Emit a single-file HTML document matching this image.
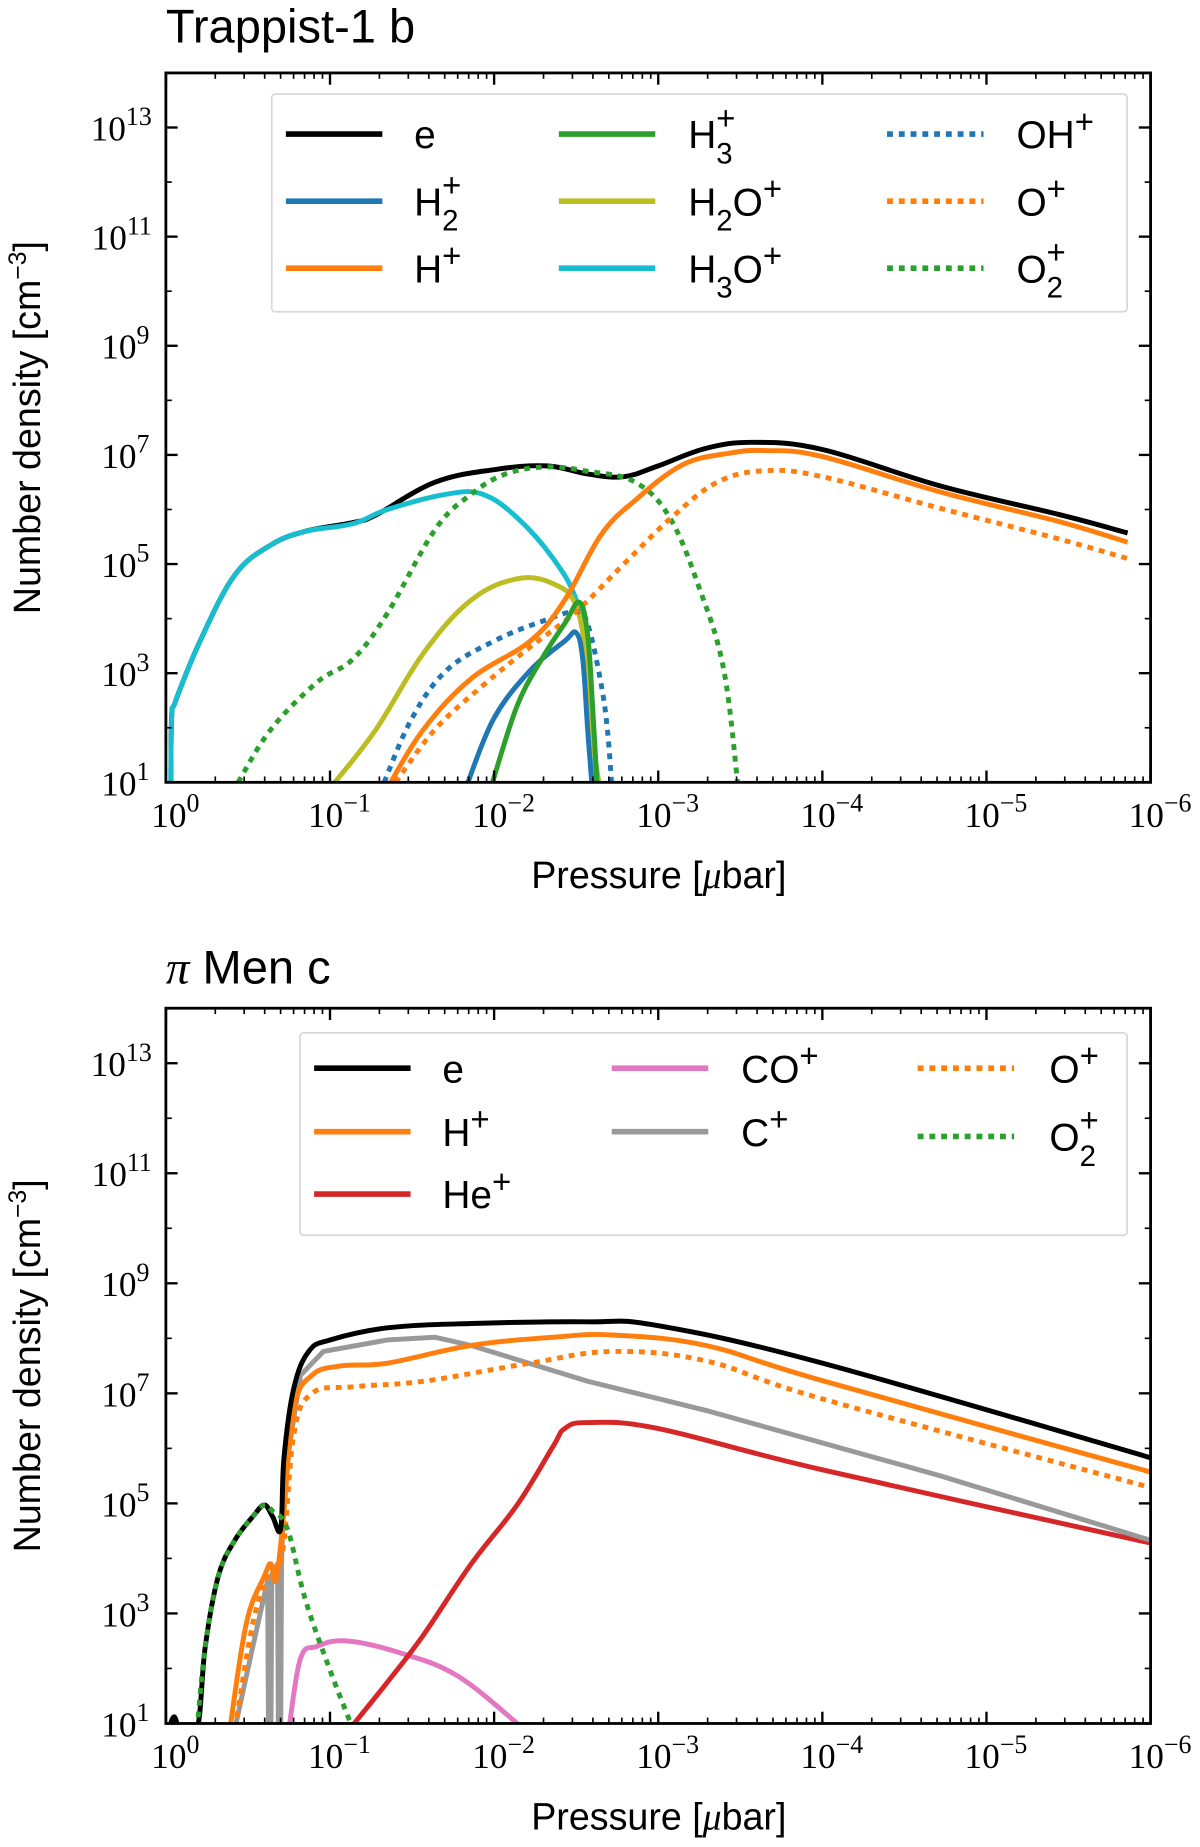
<!DOCTYPE html>
<html><head><meta charset="utf-8"><style>
html,body{margin:0;padding:0;background:#fff}
svg{display:block}
text{font-family:"Liberation Sans",sans-serif;fill:#000}
.tk{font-family:"Liberation Serif",serif;font-size:30px}
</style></head><body>
<svg id="fig" width="1200" height="1847" viewBox="0 0 1020 1570" preserveAspectRatio="none" xmlns="http://www.w3.org/2000/svg">
<defs>
<clipPath id="c1"><rect x="141" y="62" width="837" height="603"/></clipPath>
<clipPath id="c2"><rect x="141" y="857" width="837" height="608"/></clipPath>
</defs>
</svg>
<script>
// ---- data (x = log10 pressure [µbar], y = log10 number density) ----
const xTickExps = [0,-1,-2,-3,-4,-5,-6];
const yTickExps = [1,3,5,7,9,11,13];

const t_H3Op = [[-0.03,0.8],[-0.035,2.2],[-0.06,2.5],[-0.21,3.6],[-0.42,4.8],[-0.64,5.35],[-0.85,5.6],[-1.14,5.74],[-1.35,6.0],[-1.71,6.28],[-1.93,6.28],[-2.14,5.85],[-2.36,5.1],[-2.5,4.34],[-2.57,3.26],[-2.6,2.0],[-2.63,0.8]];
const t_e = [[-0.03,0.8],[-0.035,2.2],[-0.06,2.5],[-0.21,3.6],[-0.42,4.8],[-0.64,5.35],[-0.85,5.6],[-1.14,5.76],[-1.28,5.9],[-1.64,6.5],[-2,6.73],[-2.32,6.8],[-2.57,6.65],[-2.79,6.6],[-3,6.8],[-3.29,7.12],[-3.58,7.23],[-4,7.1],[-4.72,6.43],[-5.44,5.91],[-5.86,5.57]];
const t_O2p = [[-0.44,1],[-0.64,1.97],[-0.92,2.83],[-1.14,3.26],[-1.35,4.1],[-1.64,5.63],[-1.86,6.28],[-2.07,6.65],[-2.32,6.78],[-2.57,6.7],[-2.86,6.5],[-3.07,5.85],[-3.25,4.56],[-3.4,3.05],[-3.49,0.8]];
const t_H2Op = [[-1.03,1],[-1.28,1.97],[-1.57,3.37],[-1.86,4.34],[-2.14,4.73],[-2.36,4.64],[-2.5,4.23],[-2.57,3.05],[-2.61,1.6],[-2.65,0.8]];
const t_OHp = [[-1.33,1],[-1.5,2.18],[-1.71,3.05],[-2,3.59],[-2.29,3.95],[-2.5,4.13],[-2.57,3.9],[-2.65,2.83],[-2.69,1.97],[-2.72,0.8]];
const t_Hp = [[-1.37,1],[-1.57,1.97],[-1.86,2.9],[-2.22,3.59],[-2.43,4.34],[-2.65,5.53],[-2.86,6.17],[-3.15,6.82],[-3.43,7.03],[-3.65,7.08],[-4,6.97],[-4.72,6.32],[-5.44,5.78],[-5.86,5.4]];
const t_Op = [[-1.4,1],[-1.64,1.97],[-1.93,2.77],[-2.22,3.48],[-2.5,4.13],[-2.79,5.0],[-3.08,5.85],[-3.36,6.5],[-3.65,6.71],[-4,6.6],[-4.72,6.02],[-5.44,5.46],[-5.86,5.1]];
const t_H2p = [[-1.84,1],[-2,2.18],[-2.22,3.05],[-2.43,3.59],[-2.5,3.74],[-2.54,3.26],[-2.57,1.97],[-2.6,0.8]];
const t_H3p = [[-1.99,1],[-2.14,2.4],[-2.29,3.26],[-2.43,3.91],[-2.52,4.3],[-2.57,3.7],[-2.6,2.4],[-2.63,0.8]];

const m_e = [[-0.02,0.9],[-0.05,1.12],[-0.09,0.9],[-0.19,0.9],[-0.24,2.4],[-0.32,3.68],[-0.42,4.33],[-0.53,4.76],[-0.6,4.97],[-0.65,4.76],[-0.7,4.54],[-0.72,5.83],[-0.78,7.1],[-0.87,7.76],[-1,7.97],[-1.35,8.19],[-1.86,8.27],[-2.57,8.3],[-3,8.23],[-4,7.55],[-6,5.83]];
const m_O2p = [[-0.19,0.9],[-0.24,2.4],[-0.32,3.68],[-0.42,4.33],[-0.53,4.76],[-0.6,4.97],[-0.65,4.86],[-0.74,4.54],[-0.85,3.25],[-1,1.97],[-1.14,0.9]];
const m_Hp = [[-0.39,0.9],[-0.49,2.82],[-0.6,3.68],[-0.64,3.9],[-0.67,3.6],[-0.71,4.54],[-0.78,6.7],[-0.89,7.33],[-1.07,7.5],[-1.35,7.55],[-1.86,7.87],[-2.36,8.02],[-2.72,8.06],[-3.29,7.87],[-4,7.23],[-6,5.57]];
const m_Op = [[-0.42,0.9],[-0.53,2.82],[-0.62,3.68],[-0.71,4.1],[-0.78,6.26],[-0.89,7.0],[-1.14,7.12],[-1.57,7.22],[-2.22,7.55],[-2.72,7.76],[-3.29,7.59],[-4,6.9],[-6,5.29]];
const m_Cp = [[-0.42,0.9],[-0.53,2.4],[-0.62,3.6],[-0.625,0.9],[-0.64,0.9],[-0.645,3.7],[-0.68,3.9],[-0.685,0.9],[-0.7,0.9],[-0.705,3.9],[-0.72,5.4],[-0.82,7.33],[-0.96,7.76],[-1.35,7.97],[-1.64,8.02],[-1.86,7.87],[-2.57,7.22],[-3.29,6.69],[-4.72,5.5],[-6,4.33]];
const m_Hep = [[-1.12,0.9],[-1.35,1.75],[-1.57,2.61],[-1.86,3.9],[-2.14,4.97],[-2.36,6.04],[-2.43,6.36],[-2.57,6.47],[-3,6.36],[-4,5.61],[-6,4.28]];
const m_COp = [[-0.75,0.9],[-0.82,2.18],[-0.92,2.4],[-1.1,2.5],[-1.42,2.29],[-1.78,1.86],[-2.18,0.9]];

const svg = document.getElementById('fig');
const NS = 'http://www.w3.org/2000/svg';
function el(tag, attrs, parent){const e=document.createElementNS(NS,tag);for(const k in attrs)e.setAttribute(k,attrs[k]);(parent||svg).appendChild(e);return e;}

function smoothPath(P){
  let d='M'+P[0][0].toFixed(1)+','+P[0][1].toFixed(1);
  for(let i=0;i<P.length-1;i++){
    const p0=P[Math.max(0,i-1)],p1=P[i],p2=P[i+1],p3=P[Math.min(P.length-1,i+2)];
    const t=0.18;
    let c1x=p1[0]+(p2[0]-p0[0])*t, c1y=p1[1]+(p2[1]-p0[1])*t;
    let c2x=p2[0]-(p3[0]-p1[0])*t, c2y=p2[1]-(p3[1]-p1[1])*t;
    const lo=Math.min(p1[0],p2[0]),hi=Math.max(p1[0],p2[0]);
    c1x=Math.min(hi,Math.max(lo,c1x)); c2x=Math.min(hi,Math.max(lo,c2x));
    d+='C'+c1x.toFixed(1)+','+c1y.toFixed(1)+' '+c2x.toFixed(1)+','+c2y.toFixed(1)+' '+p2[0].toFixed(1)+','+p2[1].toFixed(1);
  }
  return d;
}

function makePanel(p){
  const g = el('g',{});
  
  
  const L=141,R=978,T=p.top,B=p.bottom;
  const xs = v => L + (-v)*(R-L)/6;
  const ys = v => B - (v-1)*(B-T)/13;
  const tt = el('text',{x:141,y:p.titleY,'font-size':40},g); tt.innerHTML = p.title;
  
  
  const sg = el('g',{'clip-path':'url(#'+p.clip+')'},g);
  p.series.forEach(s=>{
    const pts = s.data.map(pt=>[xs(pt[0]),ys(pt[1])]);
    const d = s.sharp ? pts.map((q,i)=>(i?'L':'M')+q[0].toFixed(1)+','+q[1].toFixed(1)).join('') : smoothPath(pts);
    const path = el('path',{d:d,fill:'none',stroke:s.color,'stroke-width':4.2,'stroke-linejoin':'round','stroke-dasharray':s.dot?'5 5':'none'},sg);
    
    
  });
  const fr = el('rect',{x:L,y:T,width:R-L,height:B-T,fill:'none',stroke:'#000','stroke-width':2.4},g);
  
  
  for(let d=0; d>=-6; d--){
    const x = xs(d);
    el('line',{x1:x,x2:x,y1:B,y2:B-10,stroke:'#000','stroke-width':2},g);
    el('line',{x1:x,x2:x,y1:T,y2:T+10,stroke:'#000','stroke-width':2},g);
    if(d>-6) for(let m=2;m<=9;m++){
      const xmm = L + (-(d-1) - Math.log10(10/m))*(R-L)/6;
      el('line',{x1:xmm,x2:xmm,y1:B,y2:B-5,stroke:'#000','stroke-width':1.4},g);
      el('line',{x1:xmm,x2:xmm,y1:T,y2:T+5,stroke:'#000','stroke-width':1.4},g);
    }
  }
  xTickExps.forEach(e=>{
    const t = el('text',{x:xs(e)+8,y:B+38,'text-anchor':'middle',class:'tk'},g);
    t.innerHTML = '10<tspan dy="-13" font-size="22">'+(e<0?'\u2212'+(-e):e)+'</tspan>';
    
    
  });
  for(let v=1; v<=14; v++){
    const y = ys(v); const maj = (v%2===1);
    el('line',{x1:L,x2:L+(maj?10:5),y1:y,y2:y,stroke:'#000','stroke-width':maj?2:1.4},g);
    el('line',{x1:R,x2:R-(maj?10:5),y1:y,y2:y,stroke:'#000','stroke-width':maj?2:1.4},g);
  }
  yTickExps.forEach(e=>{
    const t = el('text',{x:e>=10?129:127,y:ys(e)+11,'text-anchor':'end',class:'tk'},g);
    t.innerHTML = '10<tspan dy="-13" font-size="22">'+e+'</tspan>';
    
    
  });
  const xl = el('text',{x:560,y:B+90,'text-anchor':'middle','font-size':32},g);
  xl.innerHTML = 'Pressure [<tspan font-family="Liberation Serif" font-style="italic">μ</tspan>bar]';
  
  
  const cy = (T+B)/2;
  const yl = el('text',{x:0,y:0,'text-anchor':'middle','font-size':32,transform:'translate(34,'+cy+') rotate(-90)'},g);
  yl.innerHTML = 'Number density [cm<tspan dy="-12" font-size="21">\u22123</tspan><tspan dy="12">]</tspan>';
  
  
  const lg = el('g',{},g);
  
  
  el('rect',{x:p.leg.x,y:p.leg.y,width:p.leg.w,height:p.leg.h,rx:3,fill:'#fff',stroke:'#d8d8d8','stroke-width':1.5},lg);
  p.series.filter(s=>s.lab).forEach(s=>{
    const [lx,tx,ry] = s.lab;
    const ln = el('line',{x1:lx,x2:lx+82,y1:ry,y2:ry,stroke:s.color,'stroke-width':4.8,'stroke-dasharray':s.dot?'5 5':'none'},lg);
    
    
    const t = el('text',{x:tx,y:ry+12,'font-size':33},lg);
    t.innerHTML = s.html;
    
    
  });
}
const sup = s=>'<tspan dy="-13" font-size="28">'+s+'</tspan>';
const sub = s=>'<tspan dy="13" font-size="25">'+s+'</tspan>';
const subsup = (b,u)=>'<tspan dy="13" font-size="25">'+b+'</tspan><tspan dx="-14" dy="-29" font-size="28">'+u+'</tspan>';

const c1=[243,352], c2=[475,585], c3=[754,864];
makePanel({name:'panel-trappist-1b',title:'Trappist-1 b',titleY:36,top:62,bottom:665,clip:'c1',
  leg:{x:231,y:80,w:727,h:185},
  series:[
    {key:'e',data:t_e,color:'#000',lab:[c1[0],c1[1],114],html:'e'},
    {key:'H3Op',data:t_H3Op,color:'#17becf',lab:[c2[0],c2[1],228],html:'H'+sub('3')+'<tspan dy="-13">O</tspan>'+sup('+')},
    {key:'O2p',data:t_O2p,color:'#2ca02c',dot:true,lab:[c3[0],c3[1],228],html:'O'+subsup('2','+')},
    {key:'H2Op',data:t_H2Op,color:'#bcbd22',lab:[c2[0],c2[1],171],html:'H'+sub('2')+'<tspan dy="-13">O</tspan>'+sup('+')},
    {key:'OHp',data:t_OHp,color:'#1f77b4',dot:true,lab:[c3[0],c3[1],114],html:'OH'+sup('+')},
    {key:'Op',data:t_Op,color:'#ff7f0e',dot:true,lab:[c3[0],c3[1],171],html:'O'+sup('+')},
    {key:'H2p',data:t_H2p,color:'#1f77b4',lab:[c1[0],c1[1],171],html:'H'+subsup('2','+')},
    {key:'H3p',data:t_H3p,color:'#2ca02c',lab:[c2[0],c2[1],114],html:'H'+subsup('3','+')},
    {key:'Hp',data:t_Hp,color:'#ff7f0e',lab:[c1[0],c1[1],228],html:'H'+sup('+')},
  ]});
const d1=[267,376], d2=[520,630], d3=[780,892];
makePanel({name:'panel-pi-men-c',title:'<tspan font-family="Liberation Serif" font-style="italic">π</tspan> Men c',titleY:836,top:857,bottom:1465,clip:'c2',
  leg:{x:255,y:878,w:703,h:172},
  series:[
    {key:'COp',data:m_COp,color:'#e377c2',lab:[d2[0],d2[1],908],html:'CO'+sup('+')},
    {key:'Hep',data:m_Hep,color:'#d62728',lab:[d1[0],d1[1],1015],html:'He'+sup('+')},
    {key:'Cp',data:m_Cp,color:'#999999',sharp:true,lab:[d2[0],d2[1],962],html:'C'+sup('+')},
    {key:'Op',data:m_Op,color:'#ff7f0e',dot:true,lab:[d3[0],d3[1],908],html:'O'+sup('+')},
    {key:'Hp',data:m_Hp,color:'#ff7f0e',lab:[d1[0],d1[1],962],html:'H'+sup('+')},
    {key:'e',data:m_e,color:'#000',lab:[d1[0],d1[1],908],html:'e'},
    {key:'O2p',data:m_O2p,color:'#2ca02c',dot:true,lab:[d3[0],d3[1],966],html:'O'+subsup('2','+')},
  ]});
</script>
</body></html>
